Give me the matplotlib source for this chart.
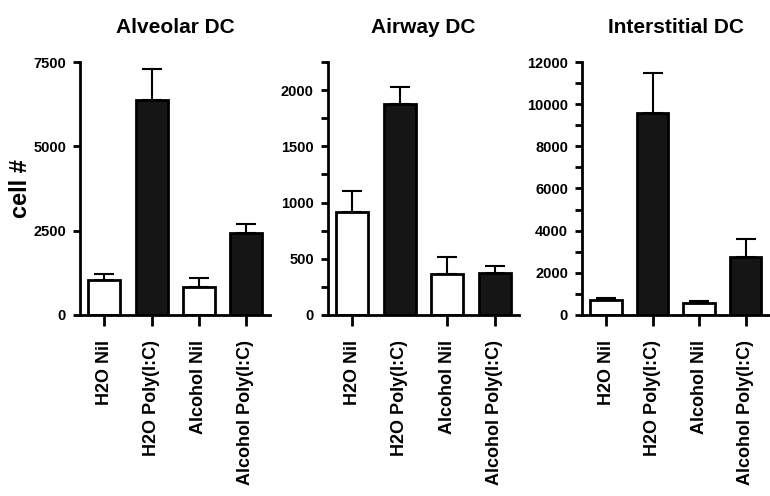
import matplotlib
matplotlib.use('Agg')
import matplotlib.pyplot as plt
from matplotlib.ticker import MultipleLocator

plt.rcParams['font.family'] = ['Liberation Sans', 'DejaVu Sans']
plt.rcParams['font.weight'] = 'bold'

groups = ['H2O Nil', 'H2O Poly(I:C)', 'Alcohol Nil', 'Alcohol Poly(I:C)']
fills = ['white', '#151515', 'white', '#151515']

titles = ['Alveolar DC', 'Airway DC', 'Interstitial DC']
alveolar = [1050, 6370, 830, 2440]
alveolar_err = [170, 930, 280, 260]
airway = [920, 1880, 365, 372]
airway_err = [180, 150, 148, 60]
interstitial = [710, 9560, 555, 2770]
interstitial_err = [110, 1940, 110, 820]

values = [alveolar, airway, interstitial]
errors = [alveolar_err, airway_err, interstitial_err]
ymax = [7500, 2250, 12000]
major = [2500, 500, 2000]
minor = [2500, 250, 1000]

fig = plt.figure(figsize=(7.7, 4.96), dpi=100)
lefts = [0.1039, 0.4255, 0.7558]
widths = [0.247, 0.249, 0.244]

for i in range(3):
    ax = fig.add_axes([lefts[i], 0.365, widths[i], 0.51])
    x = range(len(groups))
    ax.bar(x, values[i], width=0.68, color=fills, edgecolor='black', linewidth=2, zorder=2)
    ax.errorbar(x, values[i], yerr=[[0] * 4, errors[i]], fmt='none', ecolor='black',
                elinewidth=1.5, capsize=7, capthick=1.5, zorder=1)
    ax.set_xlim(-0.52, 3.52)
    ax.set_ylim(0, ymax[i])
    ax.yaxis.set_major_locator(MultipleLocator(major[i]))
    ax.yaxis.set_minor_locator(MultipleLocator(minor[i]))
    ax.set_xticks(list(x))
    ax.set_xticklabels(groups, rotation=90, fontsize=13, fontweight='bold')
    for lab in ax.get_yticklabels():
        lab.set_fontweight('bold')
    ax.tick_params(axis='y', which='both', labelsize=10.5, width=2, length=5, direction='out', pad=5)
    ax.tick_params(axis='x', width=2, length=8, direction='out', pad=10)
    for s in ['top', 'right']:
        ax.spines[s].set_visible(False)
    for s in ['left', 'bottom']:
        ax.spines[s].set_linewidth(2)
    ax.set_title(titles[i], fontsize=15, fontweight='bold', pad=21)
    if i == 0:
        ax.set_ylabel('cell #', fontsize=17, fontweight='bold', labelpad=1)
    if i == 1:
        ax.xaxis.get_major_ticks()[1].tick1line.set_visible(False)

fig.savefig('out.png', dpi=100)
